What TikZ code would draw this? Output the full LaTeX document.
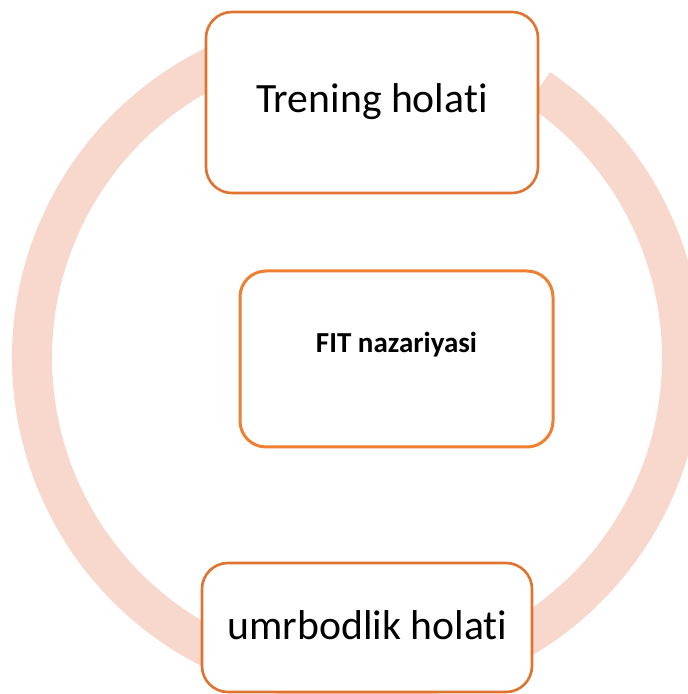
\documentclass[tikz,border=0pt]{standalone}
\usepackage{fontspec}
\setmainfont[RawFeature={-liga;-clig;-calt;-dlig}]{Carlito}
\definecolor{ringpeach}{HTML}{F8D8CC}
\definecolor{edgeorange}{HTML}{DF7430}
\definecolor{midorange}{HTML}{EE7F33}
\tikzset{
  statebox/.style={draw=edgeorange, line width=2.6pt, fill=white, rounded corners=26pt, inner sep=0pt},
  corebox/.style={draw=midorange, line width=3pt, fill=white, rounded corners=26pt, inner sep=0pt},
  bigtext/.style={anchor=base, font=\fontsize{41.7}{50}\selectfont, inner sep=0pt},
  boldtext/.style={anchor=base, font=\bfseries\fontsize{29}{35}\selectfont, inner sep=0pt},
}
\begin{document}
\begin{tikzpicture}[x=1pt,y=1pt]
  \useasboundingbox (0,0) rectangle (688,694);
  % cycle ring
  \coordinate (ctr) at (357,336);
  \draw[ringpeach, line width=40pt] (ctr) ++(56:325pt) arc[start angle=56, end angle=-255, radius=325pt];
  % state boxes
  \node[statebox, minimum width=332pt, minimum height=181pt] (top) at (372,591.5) {};
  \node[corebox, minimum width=313pt, minimum height=176pt] (mid) at (396.5,335) {};
  \node[statebox, minimum width=330pt, minimum height=129pt] (bot) at (367,66.5) {};
  % labels
  \node[bigtext] (toptext) at (372,581) {Trening holat\kern0pt i};
  \node[boldtext] (midtext) at (396.5,341) {FIT nazariyasi};
  \node[bigtext] (bottext) at (367.5,54) {umrbodlik holat\kern0pt i};
\end{tikzpicture}
\end{document}
